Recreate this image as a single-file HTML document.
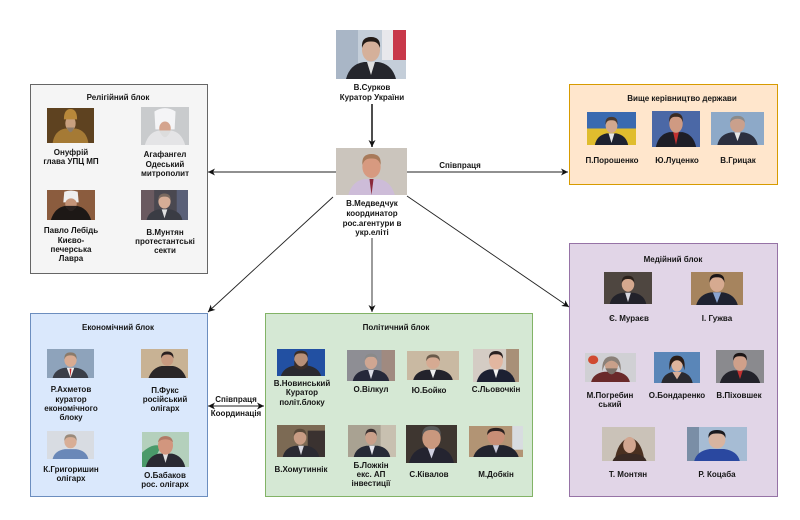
<!DOCTYPE html>
<html><head><meta charset="utf-8">
<style>
html,body{margin:0;padding:0;background:#fff;}
svg{display:block;}
text{font-family:"Liberation Sans","DejaVu Sans",sans-serif;font-size:8px;font-weight:bold;fill:#151515;text-anchor:middle;}
</style></head><body>
<svg width="800" height="520" viewBox="0 0 800 520" xmlns="http://www.w3.org/2000/svg">
<defs>
<marker id="ah" markerUnits="userSpaceOnUse" markerWidth="8" markerHeight="7" refX="7" refY="3.5" orient="auto-start-reverse">
<path d="M0,0 L7,3.5 L0,7 L2,3.5Z" fill="#111"/>
</marker>
</defs>
<rect width="800" height="520" fill="#fff"/>

<!-- blocks -->
<rect x="30.5" y="84.5" width="177" height="189" fill="#f5f5f5" stroke="#666" stroke-width="1"/>
<rect x="569.5" y="84.5" width="208" height="100" fill="#ffe6cc" stroke="#d79b00" stroke-width="1"/>
<rect x="569.5" y="243.5" width="208" height="253" fill="#e1d5e7" stroke="#9673a6" stroke-width="1"/>
<rect x="30.5" y="313.5" width="177" height="183" fill="#dae8fc" stroke="#6c8ebf" stroke-width="1"/>
<rect x="265.5" y="313.5" width="267" height="183" fill="#d5e8d4" stroke="#82b366" stroke-width="1"/>

<!-- connectors -->
<line x1="372" y1="104" x2="372" y2="147" stroke="#222" stroke-width="1.6" marker-end="url(#ah)"/>
<line x1="336" y1="172" x2="208" y2="172" stroke="#222" stroke-width="0.9" marker-end="url(#ah)"/>
<line x1="407" y1="172" x2="568" y2="172" stroke="#222" stroke-width="0.9" marker-end="url(#ah)"/>
<line x1="372" y1="238" x2="372" y2="312" stroke="#222" stroke-width="0.9" marker-end="url(#ah)"/>
<line x1="333" y1="197" x2="208" y2="312" stroke="#222" stroke-width="0.9" marker-end="url(#ah)"/>
<line x1="407" y1="196" x2="569" y2="307" stroke="#222" stroke-width="0.9" marker-end="url(#ah)"/>
<line x1="208" y1="406" x2="264" y2="406" stroke="#222" stroke-width="0.9" marker-start="url(#ah)" marker-end="url(#ah)"/>
<text x="460" y="168">Співпраця</text>
<text x="236" y="402">Співпраця</text>
<text x="236" y="416">Координація</text>

<!-- Surkov -->
<svg x="336" y="30" width="70" height="49" viewBox="0 0 70 49" preserveAspectRatio="none">
<rect width="70" height="49" fill="#c4ced9"/>
<rect x="0" y="0" width="22" height="49" fill="#a9b6c6"/>
<rect x="46" y="0" width="12" height="30" fill="#e8e8ec"/>
<rect x="57" y="0" width="13" height="30" fill="#c8384a"/>
<path d="M10 49 Q14 34 28 32 H42 Q56 34 60 49Z" fill="#25262c"/>
<path d="M31 32 L35 45 L39 32Z" fill="#e0e0e0"/>
<ellipse cx="35" cy="20" rx="9" ry="11.5" fill="#d5b09a"/>
<path d="M26 18 Q25 7 35 7 Q45 7 44 18 Q42 11 35 11.5 Q28 11 26 18Z" fill="#231b17"/>
</svg>
<text x="372" y="90">В.Сурков</text>
<text x="372" y="100">Куратор України</text>

<!-- Medvedchuk -->
<svg x="336" y="148" width="71" height="47" viewBox="0 0 70 47" preserveAspectRatio="none">
<rect width="70" height="47" fill="#cbc5bd"/>
<path d="M12 47 Q16 33 28 31 H42 Q54 33 58 47Z" fill="#cdbcd8"/>
<path d="M33 31 L35 47 L37 31Z" fill="#8a2a3a"/>
<ellipse cx="35" cy="19" rx="9" ry="11" fill="#d79a80"/>
<path d="M26 17 Q25 6 35 6 Q45 6 44 17 Q42 10 35 10.5 Q28 10 26 17Z" fill="#a87a5a"/>
</svg>
<text x="372" y="206">В.Медведчук</text>
<text x="372" y="216">координатор</text>
<text x="372" y="226">рос.агентури в</text>
<text x="372" y="235">укр.еліті</text>

<!-- Religious block -->
<text x="118" y="100">Релігійний блок</text>
<svg x="47" y="108" width="47" height="35" viewBox="0 0 50 34" preserveAspectRatio="none">
<rect width="50" height="34" fill="#5e4220"/>
<path d="M6 34 Q8 22 19 20 H31 Q42 22 44 34Z" fill="#a57a35"/>
<ellipse cx="25" cy="15" rx="5.5" ry="7" fill="#c8a080"/>
<path d="M18 11 Q18 1 25 1 Q32 1 32 11Z" fill="#b8883a"/>
<path d="M21 19 Q25 28 29 19Z" fill="#8a7a6a"/>
</svg>
<text x="71" y="155">Онуфрій</text>
<text x="71" y="164">глава УПЦ МП</text>

<svg x="141" y="107" width="48" height="38" viewBox="0 0 50 34" preserveAspectRatio="none">
<rect width="50" height="34" fill="#c9cbcd"/>
<path d="M4 34 Q8 22 19 21 H31 Q42 22 46 34Z" fill="#e4e4e6"/>
<path d="M15 20 L14 4 Q25 -2 36 4 L35 20Z" fill="#f4f4f6"/>
<ellipse cx="25" cy="19" rx="6" ry="6" fill="#d4a48e"/>
<path d="M19 21 Q25 33 31 21Z" fill="#dcdcdc"/>
</svg>
<text x="165" y="157">Агафангел</text>
<text x="165" y="167">Одеський</text>
<text x="165" y="176">митрополит</text>

<svg x="47" y="190" width="48" height="30" viewBox="0 0 50 34" preserveAspectRatio="none">
<rect width="50" height="34" fill="#8b5c3e"/>
<path d="M4 34 Q8 20 19 18 H31 Q42 20 46 34Z" fill="#1d1816"/>
<path d="M17 14 L18 2 Q25 -1 32 2 L33 14Z" fill="#eeeeee"/>
<ellipse cx="25" cy="16" rx="6" ry="6.5" fill="#c49478"/>
<path d="M19 18 Q25 30 31 18Z" fill="#2a2220"/>
</svg>
<text x="71" y="233">Павло Лебідь</text>
<text x="71" y="243">Києво-</text>
<text x="71" y="252">печерська</text>
<text x="71" y="261">Лавра</text>

<svg x="141" y="190" width="47" height="30" viewBox="0 0 50 34" preserveAspectRatio="none">
<rect width="50" height="34" fill="#4a4850"/>
<rect x="0" y="0" width="14" height="34" fill="#6a5a60"/>
<rect x="38" y="0" width="12" height="34" fill="#5a6078"/>
<path d="M6 34 Q8 24 19 22 H31 Q42 24 44 34Z" fill="#3a3c44"/>
<path d="M22 22 L25 32 L28 22Z" fill="#e0e0e0"/>
<ellipse cx="25" cy="13" rx="6.5" ry="8" fill="#d6ad96"/>
<path d="M18.5 12 Q18 4 25 4 Q32 4 31.5 12 Q30 7 25 7.5 Q20 7 18.5 12Z" fill="#7a6a60"/>
</svg>
<text x="165" y="235">В.Мунтян</text>
<text x="165" y="244">протестантські</text>
<text x="165" y="253">секти</text>

<!-- Top leadership -->
<text x="682" y="101">Вище керівництво держави</text>
<svg x="587" y="112" width="49" height="33" viewBox="0 0 50 34" preserveAspectRatio="none">
<rect width="50" height="34" fill="#3a6ab0"/>
<rect y="17" width="50" height="17" fill="#e0bd2e"/>
<path d="M8 34 Q10 24 20 22 H30 Q40 24 42 34Z" fill="#1e2230"/>
<path d="M22 22 L25 32 L28 22Z" fill="#e6e6e6"/>
<ellipse cx="25" cy="14" rx="6" ry="7.5" fill="#d2a88e"/>
<path d="M19 13 Q18 5 25 5 Q32 5 31 13 Q30 8 25 8.5 Q20 8 19 13Z" fill="#4a3a30"/>
</svg>
<svg x="652" y="111" width="48" height="36" viewBox="0 0 50 34" preserveAspectRatio="none">
<rect width="50" height="34" fill="#4b68a6"/>
<path d="M4 34 Q7 22 18 20 H32 Q43 22 46 34Z" fill="#1e1e26"/>
<path d="M22 20 L25 32 L28 20Z" fill="#c23030"/>
<ellipse cx="25" cy="12" rx="7" ry="8.5" fill="#cf9a82"/>
<path d="M18 11 Q17 2 25 2 Q33 2 32 11 Q31 5 25 5.5 Q19 5 18 11Z" fill="#3a2a22"/>
</svg>
<svg x="711" y="112" width="53" height="33" viewBox="0 0 50 34" preserveAspectRatio="none">
<rect width="50" height="34" fill="#8da9c8"/>
<path d="M6 34 Q8 23 19 21 H31 Q42 23 44 34Z" fill="#2c3040"/>
<path d="M22 21 L25 30 L28 21Z" fill="#e6e6e6"/>
<ellipse cx="25" cy="13" rx="7" ry="8" fill="#caa08c"/>
<path d="M18 11 Q18 4 25 4 Q32 4 32 11 Q30 7 25 7 Q20 7 18 11Z" fill="#8a8a8a"/>
</svg>
<text x="612" y="163">П.Порошенко</text>
<text x="677" y="163">Ю.Луценко</text>
<text x="738" y="163">В.Грицак</text>

<!-- Media block -->
<text x="673" y="262">Медійний блок</text>
<svg x="604" y="272" width="48" height="32" viewBox="0 0 50 34" preserveAspectRatio="none">
<rect width="50" height="34" fill="#4e4640"/>
<path d="M6 34 Q8 24 19 22 H31 Q42 24 44 34Z" fill="#22222a"/>
<path d="M22 22 L25 32 L28 22Z" fill="#d8d8e0"/>
<ellipse cx="25" cy="13" rx="6.5" ry="8" fill="#d4a88e"/>
<path d="M18.5 12 Q18 4 25 4 Q32 4 31.5 12 Q30 7 25 7.5 Q20 7 18.5 12Z" fill="#2a201a"/>
</svg>
<svg x="691" y="272" width="52" height="33" viewBox="0 0 50 34" preserveAspectRatio="none">
<rect width="50" height="34" fill="#a6845e"/>
<path d="M5 34 Q8 23 19 21 H31 Q42 23 45 34Z" fill="#1e2230"/>
<path d="M21 21 L25 32 L29 21Z" fill="#8aa4d0"/>
<ellipse cx="25" cy="12" rx="7" ry="8.5" fill="#d6aa90"/>
<path d="M18 11 Q17 2 25 2 Q33 2 32 11 Q31 5 25 5.5 Q19 5 18 11Z" fill="#1c1616"/>
</svg>
<text x="629" y="321">Є. Мураєв</text>
<text x="717" y="321">І. Гужва</text>

<svg x="585" y="353" width="51" height="29" viewBox="0 0 50 34" preserveAspectRatio="none">
<rect width="50" height="34" fill="#d0d0d4"/>
<circle cx="8" cy="8" r="5" fill="#d04a30"/>
<path d="M6 34 Q8 24 19 22 H31 Q42 24 44 34Z" fill="#6a2a2a"/>
<ellipse cx="26" cy="14" rx="6.5" ry="8" fill="#c9a08a"/>
<path d="M17 22 Q16 4 26 4 Q36 4 35 22 Q33 10 26 9 Q19 10 17 22Z" fill="#8a8078"/>
<path d="M20 18 Q26 32 32 18Z" fill="#7a7068"/>
</svg>
<svg x="654" y="352" width="46" height="31" viewBox="0 0 50 34" preserveAspectRatio="none">
<rect width="50" height="34" fill="#5a86b8"/>
<path d="M8 34 Q10 24 20 22 H30 Q40 24 42 34Z" fill="#2a2a30"/>
<path d="M20 22 L25 30 L30 22Z" fill="#d8b09a"/>
<ellipse cx="25" cy="14" rx="6" ry="7.5" fill="#deb49c"/>
<path d="M17 20 Q15 4 25 4 Q35 4 33 20 Q31 9 25 9 Q19 9 17 20Z" fill="#2a1c16"/>
</svg>
<svg x="716" y="350" width="48" height="33" viewBox="0 0 50 34" preserveAspectRatio="none">
<rect width="50" height="34" fill="#8a8a8e"/>
<path d="M4 34 Q7 23 18 21 H32 Q43 23 46 34Z" fill="#22222a"/>
<path d="M22 21 L25 30 L28 21Z" fill="#c03030"/>
<ellipse cx="25" cy="13" rx="7" ry="8.5" fill="#cfa08a"/>
<path d="M18 11 Q17 3 25 3 Q33 3 32 11 Q31 6 25 6.5 Q19 6 18 11Z" fill="#1c1616"/>
</svg>
<text x="610" y="398">М.Погребин</text>
<text x="610" y="407">ський</text>
<text x="677" y="398">О.Бондаренко</text>
<text x="739" y="398">В.Піховшек</text>

<svg x="602" y="427" width="53" height="34" viewBox="0 0 50 34" preserveAspectRatio="none">
<rect width="50" height="34" fill="#cac2b8"/>
<path d="M12 34 Q14 15 26 10 Q38 14 40 34Z" fill="#4a3020"/>
<ellipse cx="26" cy="18" rx="6" ry="8" fill="#d2a690"/>
<path d="M10 34 Q12 28 20 27 H32 Q40 28 42 34Z" fill="#3a2a24"/>
</svg>
<svg x="687" y="427" width="60" height="34" viewBox="0 0 50 34" preserveAspectRatio="none">
<rect width="50" height="34" fill="#a6bcd4"/>
<rect x="0" y="0" width="10" height="34" fill="#7a8ea6"/>
<path d="M6 34 Q8 24 19 22 H31 Q42 24 44 34Z" fill="#2a48a0"/>
<ellipse cx="25" cy="13" rx="7" ry="8.5" fill="#d8b4a0"/>
<path d="M18 11 Q17 3 25 3 Q33 3 32 11 Q31 6 25 6.5 Q19 6 18 11Z" fill="#1a1a1e"/>
</svg>
<text x="628" y="477">Т. Монтян</text>
<text x="717" y="477">Р. Коцаба</text>

<!-- Economic block -->
<text x="118" y="330">Економічний блок</text>
<svg x="47" y="349" width="47" height="29" viewBox="0 0 50 34" preserveAspectRatio="none">
<rect width="50" height="34" fill="#8ea3bb"/>
<path d="M6 34 Q8 24 19 22 H31 Q42 24 44 34Z" fill="#3a3e48"/>
<path d="M21 22 L25 34 L29 22Z" fill="#f0f0f0"/>
<path d="M24 23 L25 33 L26 23Z" fill="#c02a2a"/>
<ellipse cx="25" cy="13" rx="6.5" ry="8" fill="#d9ab92"/>
<path d="M18.5 12 Q18 4 25 4 Q32 4 31.5 12 Q30 7 25 7.5 Q20 7 18.5 12Z" fill="#8a7a6a"/>
</svg>
<text x="71" y="392">Р.Ахметов</text>
<text x="71" y="402">куратор</text>
<text x="71" y="411">економічного</text>
<text x="71" y="420">блоку</text>

<svg x="141" y="349" width="47" height="29" viewBox="0 0 50 34" preserveAspectRatio="none">
<rect width="50" height="34" fill="#c8b294"/>
<path d="M8 34 Q12 22 22 20 H34 Q44 22 48 34Z" fill="#2a2628"/>
<ellipse cx="28" cy="12" rx="6.5" ry="8" fill="#c89a80"/>
<path d="M21.5 11 Q21 3 28 3 Q35 3 34.5 11 Q33 6 28 6.5 Q23 6 21.5 11Z" fill="#2a2020"/>
</svg>
<text x="165" y="393">П.Фукс</text>
<text x="165" y="402">російський</text>
<text x="165" y="411">олігарх</text>

<svg x="47" y="431" width="47" height="28" viewBox="0 0 50 34" preserveAspectRatio="none">
<rect width="50" height="34" fill="#d8dce2"/>
<path d="M6 34 Q8 24 19 22 H31 Q42 24 44 34Z" fill="#6a88b8"/>
<ellipse cx="25" cy="13" rx="6.5" ry="8" fill="#d8ae96"/>
<path d="M18.5 12 Q18 4 25 4 Q32 4 31.5 12 Q30 7 25 7.5 Q20 7 18.5 12Z" fill="#9a8a7a"/>
</svg>
<text x="71" y="472">К.Григоришин</text>
<text x="71" y="481">олігарх</text>

<svg x="142" y="432" width="47" height="35" viewBox="0 0 50 34" preserveAspectRatio="none">
<rect width="50" height="34" fill="#b4d0bc"/>
<path d="M0 20 Q12 10 20 14 L10 34 H0Z" fill="#4a9a6a"/>
<path d="M4 34 Q7 23 18 21 H32 Q43 23 46 34Z" fill="#2a2a32"/>
<path d="M22 21 L25 30 L28 21Z" fill="#e0e0e0"/>
<ellipse cx="25" cy="13" rx="8" ry="9" fill="#d2967e"/>
<path d="M17 10 Q18 4 25 4 Q32 4 33 10 Q30 7 25 7 Q20 7 17 10Z" fill="#b07a66"/>
</svg>
<text x="165" y="478">О.Бабаков</text>
<text x="165" y="487">рос. олігарх</text>

<!-- Political block -->
<text x="396" y="330">Політичний блок</text>
<svg x="277" y="349" width="48" height="27" viewBox="0 0 50 34" preserveAspectRatio="none">
<rect width="50" height="34" fill="#2250a2"/>
<path d="M4 34 Q7 23 18 21 H32 Q43 23 46 34Z" fill="#2a2a30"/>
<ellipse cx="25" cy="13" rx="7" ry="9" fill="#b89078"/>
<path d="M18 14 Q25 30 32 14 L32 22 Q25 30 18 22Z" fill="#3a2e28"/>
<path d="M18 11 Q17 2 25 2 Q33 2 32 11 Q31 5 25 5.5 Q19 5 18 11Z" fill="#3a2e28"/>
</svg>
<svg x="347" y="350" width="48" height="31" viewBox="0 0 50 34" preserveAspectRatio="none">
<rect width="50" height="34" fill="#8e8e94"/>
<rect x="36" y="0" width="14" height="34" fill="#a08a80"/>
<path d="M6 34 Q8 24 19 22 H31 Q42 24 44 34Z" fill="#26283a"/>
<path d="M22 22 L25 32 L28 22Z" fill="#dcdce6"/>
<ellipse cx="25" cy="13" rx="6.5" ry="8" fill="#cfa692"/>
<path d="M18.5 12 Q18 4 25 4 Q32 4 31.5 12 Q30 7 25 7.5 Q20 7 18.5 12Z" fill="#8a8a8a"/>
</svg>
<svg x="407" y="351" width="52" height="29" viewBox="0 0 50 34" preserveAspectRatio="none">
<rect width="50" height="34" fill="#c9b9a2"/>
<path d="M6 34 Q8 24 19 22 H31 Q42 24 44 34Z" fill="#23232c"/>
<path d="M22 22 L25 32 L28 22Z" fill="#eeeeee"/>
<ellipse cx="25" cy="13" rx="6.5" ry="8" fill="#d6aa92"/>
<path d="M18.5 12 Q18 4 25 4 Q32 4 31.5 12 Q30 7 25 7.5 Q20 7 18.5 12Z" fill="#6a5a4a"/>
</svg>
<svg x="473" y="349" width="46" height="33" viewBox="0 0 50 34" preserveAspectRatio="none">
<rect width="50" height="34" fill="#d4ccc4"/>
<rect x="36" y="0" width="14" height="34" fill="#a89078"/>
<path d="M4 34 Q7 23 18 21 H32 Q43 23 46 34Z" fill="#1c2032"/>
<path d="M22 21 L25 30 L28 21Z" fill="#f0f0f0"/>
<ellipse cx="25" cy="12" rx="7.5" ry="9" fill="#e2b6a0"/>
<path d="M17.5 10 Q17 2 25 2 Q33 2 32.5 10 Q31 5 25 5.5 Q19 5 17.5 10Z" fill="#2a2020"/>
</svg>
<text x="302" y="386">В.Новинський</text>
<text x="302" y="395">Куратор</text>
<text x="302" y="405">політ.блоку</text>
<text x="371" y="392">О.Вілкул</text>
<text x="429" y="393">Ю.Бойко</text>
<text x="496" y="392">С.Льовочкін</text>

<svg x="277" y="425" width="48" height="32" viewBox="0 0 50 34" preserveAspectRatio="none">
<rect width="50" height="34" fill="#7c6a54"/>
<rect x="32" y="6" width="18" height="28" fill="#3a3230"/>
<path d="M6 34 Q8 24 19 22 H31 Q42 24 44 34Z" fill="#2a2a32"/>
<path d="M22 22 L25 32 L28 22Z" fill="#d8d8e0"/>
<ellipse cx="24" cy="13" rx="6.5" ry="8" fill="#c89c84"/>
<path d="M17.5 12 Q17 4 24 4 Q31 4 30.5 12 Q29 7 24 7.5 Q19 7 17.5 12Z" fill="#5a4a3a"/>
</svg>
<svg x="348" y="425" width="48" height="32" viewBox="0 0 50 34" preserveAspectRatio="none">
<rect width="50" height="34" fill="#a9a292"/>
<rect x="34" y="0" width="16" height="34" fill="#c8c0b0"/>
<path d="M6 34 Q8 24 19 22 H31 Q42 24 44 34Z" fill="#262a36"/>
<path d="M22 22 L25 32 L28 22Z" fill="#e6e6ee"/>
<ellipse cx="24" cy="13" rx="6" ry="8" fill="#caa08a"/>
<path d="M18 12 Q18 4 24 4 Q30 4 30 12 Q29 7 24 7.5 Q19 7 18 12Z" fill="#3a3030"/>
</svg>
<svg x="406" y="425" width="51" height="38" viewBox="0 0 50 34" preserveAspectRatio="none">
<rect width="50" height="34" fill="#3e3630"/>
<path d="M3 34 Q6 22 18 20 H32 Q44 22 47 34Z" fill="#242430"/>
<path d="M21 20 L25 30 L29 20Z" fill="#d0d0e0"/>
<ellipse cx="25" cy="12" rx="9" ry="9.5" fill="#c9987e"/>
<path d="M16 10 Q15 1 25 1 Q35 1 34 10 Q32 4 25 4.5 Q18 4 16 10Z" fill="#5a5a5a"/>
</svg>
<svg x="469" y="426" width="54" height="31" viewBox="0 0 50 34" preserveAspectRatio="none">
<rect width="50" height="34" fill="#b29474"/>
<rect x="40" y="0" width="10" height="26" fill="#d8dce0"/>
<path d="M4 34 Q7 23 18 21 H32 Q43 23 46 34Z" fill="#22242e"/>
<path d="M22 21 L25 30 L28 21Z" fill="#c8c8d8"/>
<ellipse cx="25" cy="12" rx="8" ry="9" fill="#c88e76"/>
<path d="M17 10 Q16 2 25 2 Q34 2 33 10 Q31 5 25 5.5 Q19 5 17 10Z" fill="#2a2020"/>
</svg>
<text x="301" y="472">В.Хомутиннік</text>
<text x="371" y="468">Б.Ложкін</text>
<text x="371" y="477">екс. АП</text>
<text x="371" y="486">інвестиції</text>
<text x="429" y="477">С.Ківалов</text>
<text x="496" y="477">М.Добкін</text>
</svg>
</body></html>
